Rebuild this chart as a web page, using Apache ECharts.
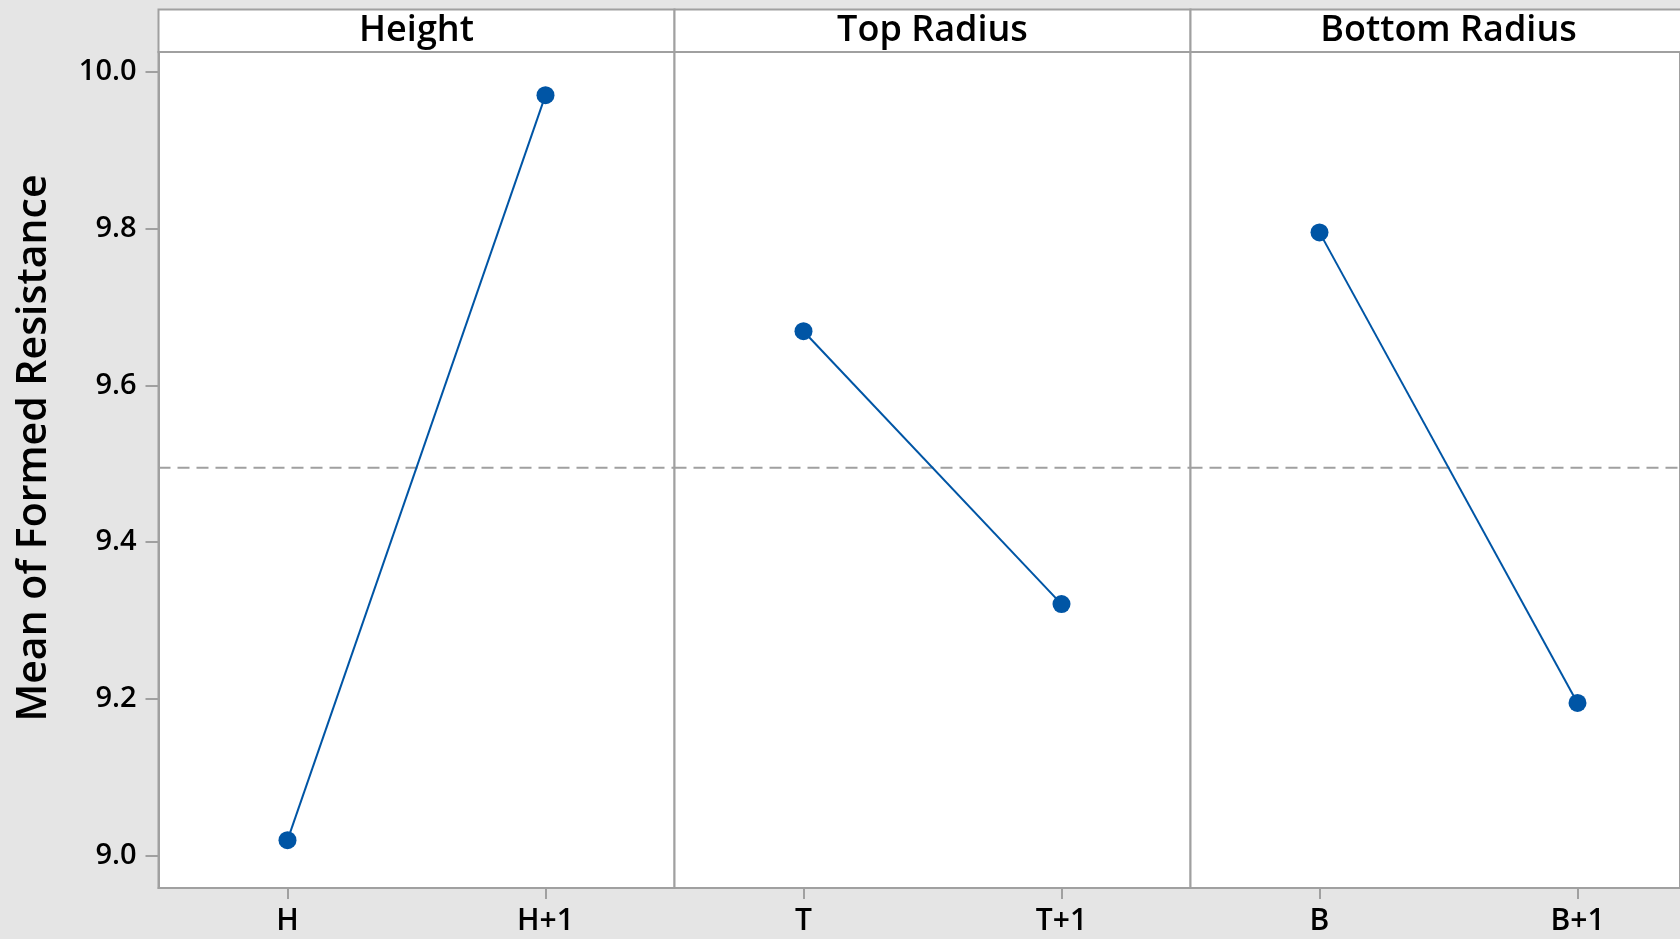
<!DOCTYPE html>
<html>
<head>
<meta charset="utf-8">
<title>Main Effects Plot</title>
<script src="https://cdn.jsdelivr.net/npm/echarts@6/dist/echarts.min.js"></script>
<style>
  html, body { margin: 0; padding: 0; background: #e5e5e5; }
  #main { width: 1680px; height: 939px; }
</style>
</head>
<body>
<div id="main"></div>
<script>
// data
const factorNames = ['Height', 'Top Radius', 'Bottom Radius']
const heightLevels = ['H', 'H+1']
const topRadiusLevels = ['T', 'T+1']
const bottomRadiusLevels = ['B', 'B+1']
const heightMeans = [9.020, 9.970]
const topRadiusMeans = [9.669, 9.321]
const bottomRadiusMeans = [9.795, 9.195]
const grandMean = 9.495
const yTicks = [9.0, 9.2, 9.4, 9.6, 9.8, 10.0]

const levels = [heightLevels, topRadiusLevels, bottomRadiusLevels]
const means = [heightMeans, topRadiusMeans, bottomRadiusMeans]

// panel layout (last panel runs off the right edge)
const canvasW = 1680
const plotLeft = 158.5
const panelW = 516
const plotTop = 52
const plotBottom = 51
const stripTop = 9.5
const gray = '#a0a0a0'
const blue = '#0055a5'
const font = '"Open Sans", "Noto Sans", sans-serif'

const chart = echarts.init(document.getElementById('main'))

const grids = [], xAxes = [], yAxes = [], series = [], graphics = []

factorNames.forEach((name, i) => {
  const left = plotLeft + i * panelW
  const visibleW = Math.min(panelW, canvasW - left)
  // level positions 0 and 1 sit at 1/4 and 3/4 of the full panel
  const xMax = -0.5 + 2 * visibleW / panelW
  const idx = levels[i].map((_, k) => k)

  grids.push({
    left: left,
    width: visibleW,
    top: plotTop,
    bottom: plotBottom,
    show: true,
    backgroundColor: '#fff',
    borderColor: gray,
    borderWidth: 2,
  })
  xAxes.push({
    type: 'value',
    gridIndex: i,
    min: -0.5,
    max: xMax,
    axisLine: { show: true, onZero: false, lineStyle: { color: gray, width: 2 } },
    axisTick: { show: true, customValues: idx, length: 11, lineStyle: { color: gray, width: 2 } },
    axisLabel: {
      customValues: idx,
      formatter: v => levels[i][Math.round(v)],
      color: '#000', fontSize: 30, fontWeight: 600, fontFamily: font, margin: 18,
    },
    splitLine: { show: false },
  })
  yAxes.push({
    type: 'value',
    gridIndex: i,
    position: 'left',
    min: 8.959,
    max: 10.025,
    axisLine: { show: i === 0, onZero: false, lineStyle: { color: gray, width: 2 } },
    splitLine: { show: false },
    axisTick: i === 0
      ? { show: true, customValues: yTicks, length: 13, lineStyle: { color: gray, width: 2 } }
      : { show: false },
    axisLabel: i === 0
      ? {
          show: true,
          customValues: yTicks,
          formatter: v => v.toFixed(1),
          color: '#000',
          fontSize: 29,
          fontWeight: 600,
          fontFamily: font,
          margin: 22,
        }
      : { show: false },
  })
  // grand mean reference line
  series.push({
    type: 'line',
    xAxisIndex: i,
    yAxisIndex: i,
    data: [[-0.5, grandMean], [xMax, grandMean]],
    symbol: 'none',
    silent: true,
    lineStyle: { color: gray, width: 2, type: [12, 7] },
    z: 2,
  })
  series.push({
    name: name,
    type: 'line',
    xAxisIndex: i,
    yAxisIndex: i,
    data: means[i].map((v, k) => [k, v]),
    symbol: 'circle',
    symbolSize: 18,
    lineStyle: { color: blue, width: 2 },
    itemStyle: { color: blue },
    z: 3,
  })
  // facet strip
  graphics.push({
    type: 'rect',
    shape: { x: left, y: stripTop, width: panelW, height: plotTop - stripTop },
    style: { fill: '#fff', stroke: gray, lineWidth: 2 },
  })
  graphics.push({
    type: 'text',
    x: left + panelW / 2,
    y: (stripTop + plotTop) / 2,
    style: {
      text: name,
      fill: '#000',
      font: '600 36px ' + font,
      align: 'center',
      verticalAlign: 'middle',
    },
  })
})

graphics.push({
  type: 'text',
  x: 34,
  y: 448,
  rotation: Math.PI / 2,
  style: {
    text: 'Mean of Formed Resistance',
    fill: '#000',
    font: '600 41px ' + font,
    align: 'center',
    verticalAlign: 'middle',
  },
})

const option = {
  backgroundColor: '#e5e5e5',
  animation: false,
  grid: grids,
  xAxis: xAxes,
  yAxis: yAxes,
  series: series,
  graphic: graphics,
}
option && chart.setOption(option)
</script>
</body>
</html>
